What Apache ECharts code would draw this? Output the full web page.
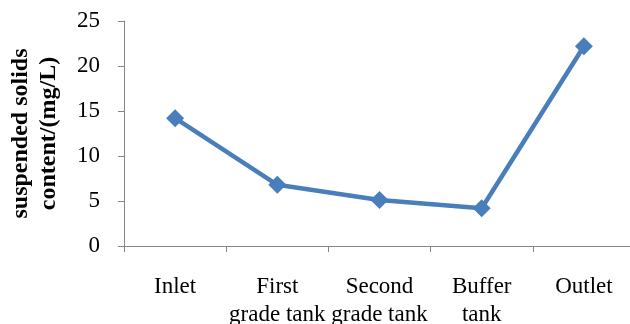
<!DOCTYPE html>
<html><head><meta charset="utf-8">
<script src="https://cdn.jsdelivr.net/npm/echarts@6/dist/echarts.min.js"></script>
<style>html,body{margin:0;padding:0;background:#fff}#c{width:630px;height:324px}</style>
</head><body><div id="c"></div>
<script>
const categories = ['Inlet', 'First\ngrade tank', 'Second\ngrade tank', 'Buffer\ntank', 'Outlet'];
const values = [14.2, 6.8, 5.1, 4.2, 22.2];
const yTicks = { min: 0, max: 25, interval: 5 };
const yName = 'suspended solids\ncontent/(mg/L)';

const font = '"Liberation Serif", "Times New Roman", serif';
const chart = echarts.init(document.getElementById('c'), null, { renderer: 'canvas' });
chart.setOption({
  animation: false,
  grid: { left: 124, right: -5, top: 21, bottom: 78, containLabel: false, outerBoundsMode: 'none' },
  xAxis: {
    type: 'category',
    data: categories,
    boundaryGap: true,
    axisLine: { lineStyle: { color: '#868686', width: 1 } },
    axisTick: { show: true, length: 6, lineStyle: { color: '#868686' } },
    axisLabel: { color: '#000', fontFamily: font, fontSize: 23, lineHeight: 28, margin: 27, interval: 0 }
  },
  yAxis: {
    type: 'value',
    min: yTicks.min, max: yTicks.max, interval: yTicks.interval,
    splitLine: { show: false },
    axisLine: { show: true, lineStyle: { color: '#868686', width: 1 } },
    axisTick: { show: true, length: 6, inside: false, lineStyle: { color: '#868686' } },
    axisLabel: { color: '#000', fontFamily: font, fontSize: 23, margin: 24 },
    name: yName,
    nameLocation: 'middle',
    nameGap: 61,
    nameTextStyle: { color: '#000', fontFamily: font, fontSize: 24, fontWeight: 'bold', lineHeight: 28 }
  },
  series: [{
    type: 'line',
    data: values,
    symbol: 'diamond',
    symbolSize: 18,
    lineStyle: { color: '#4A7EBB', width: 4.5 },
    itemStyle: { color: '#4A7EBB' }
  }]
});
</script></body></html>
